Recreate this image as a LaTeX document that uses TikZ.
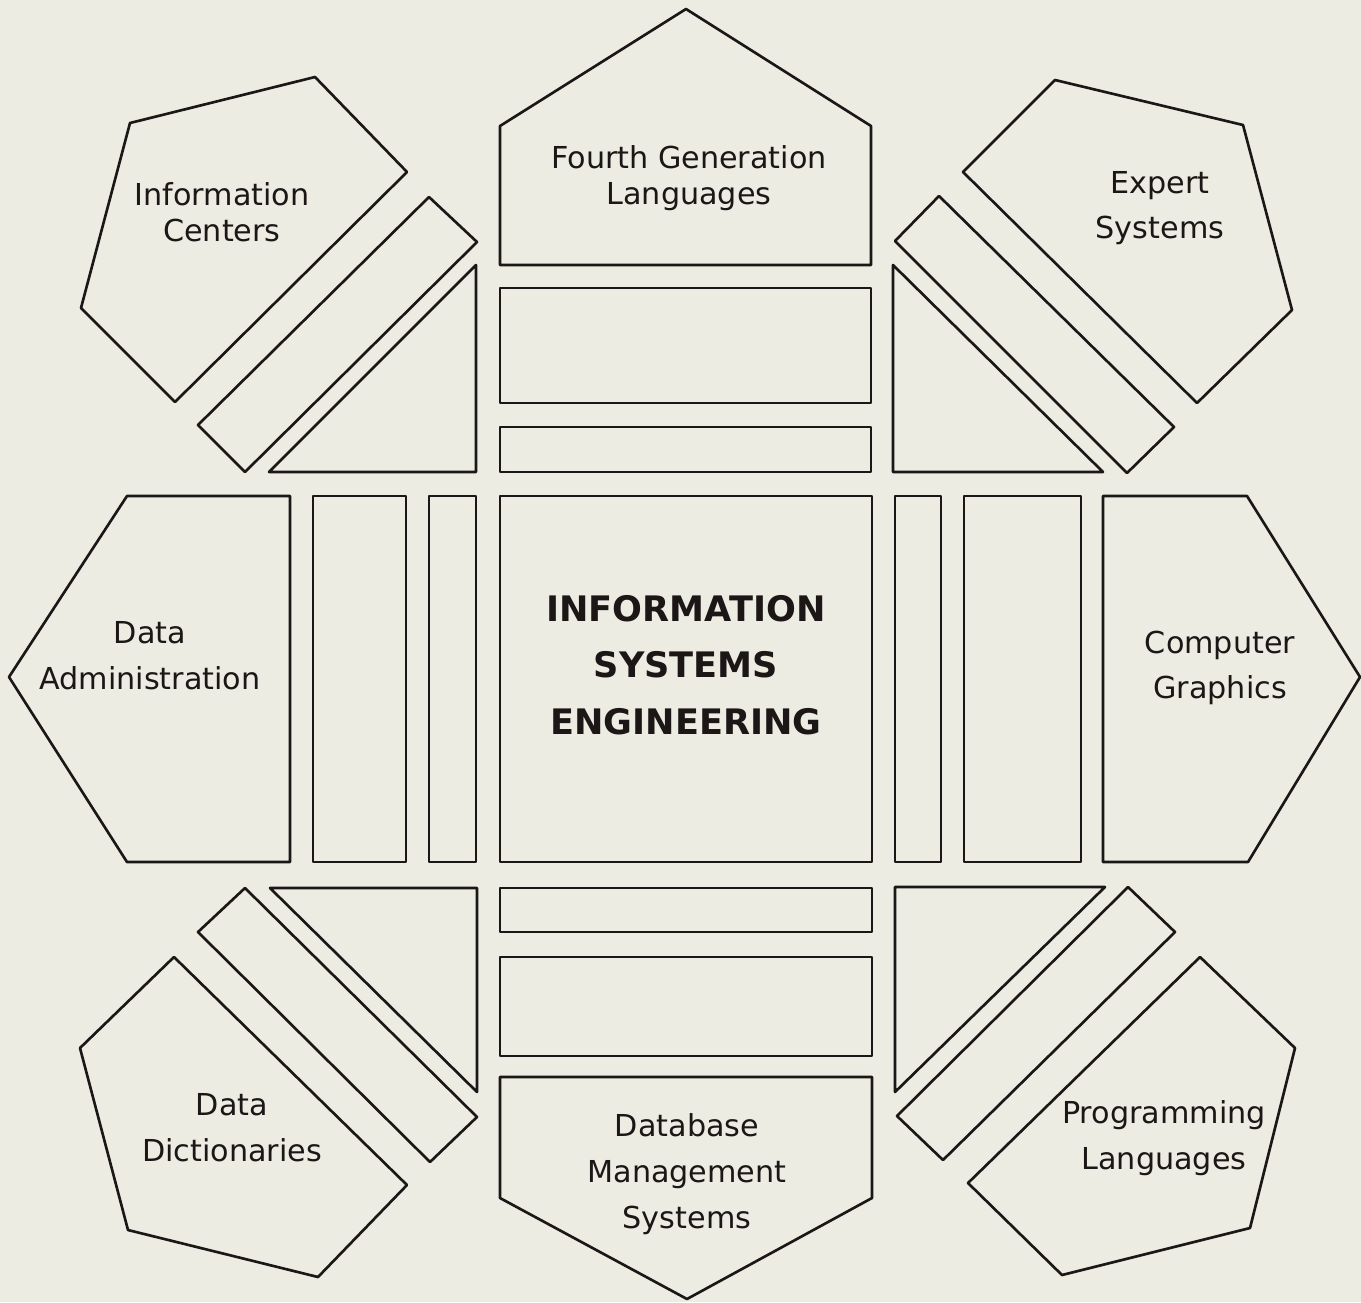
\documentclass[tikz,border=0pt]{standalone}
\usepackage{fontspec}
\setmainfont{DejaVu Sans}
\usepackage{xcolor}
\usepackage{tikz}
\definecolor{paper}{RGB}{236,236,226}
\definecolor{ink}{RGB}{28,22,22}

\begin{document}
\begin{tikzpicture}[
      x=0.02cm, y=-0.02cm,
      part/.style={draw=ink, line width=1.5pt, line join=round},
      lbl/.style={font=\fontsize{17.2}{26}\selectfont, align=center, text=ink},
      lbltight/.style={lbl, font=\fontsize{17.2}{20.5}\selectfont},
      core/.style={font=\bfseries\fontsize{20}{32.3}\selectfont, align=center, text=ink}
    ]
      % page
      \fill[paper] (0,0) rectangle (1361,1302);
      \useasboundingbox (0,0) rectangle (1361,1302);

      % centre block
      \draw[part] (500,496) rectangle (872,862);

      % top column
      \draw[part] (500,265) -- (500,126) -- (686,9) -- (871,126) -- (871,265) -- cycle;
      \draw[part] (500,288) rectangle (871,403);
      \draw[part] (500,427) rectangle (871,472);

      % bottom column
      \draw[part] (500,888) rectangle (872,932);
      \draw[part] (500,957) rectangle (872,1056);
      \draw[part] (500,1077) -- (872,1077) -- (872,1198) -- (687,1299) -- (500,1198) -- cycle;

      % left column
      \draw[part] (290,496) -- (290,862) -- (127,862) -- (9,677) -- (127,496) -- cycle;
      \draw[part] (313,496) rectangle (406,862);
      \draw[part] (429,496) rectangle (476,862);

      % right column
      \draw[part] (895,496) rectangle (941,862);
      \draw[part] (964,496) rectangle (1081,862);
      \draw[part] (1103,496) -- (1247,496) -- (1360,677) -- (1248,862) -- (1103,862) -- cycle;

      % top left wedge
      \draw[part] (130,123) -- (315,77) -- (407,172) -- (175,402) -- (81,308) -- cycle;
      \draw[part] (429,197) -- (477,242) -- (245,472) -- (198,425) -- cycle;
      \draw[part] (476,265) -- (476,472) -- (269,472) -- cycle;

      % top right wedge
      \draw[part] (1055,80) -- (1243,125) -- (1292,310) -- (1197,403) -- (963,172) -- cycle;
      \draw[part] (939,196) -- (895,241) -- (1127,473) -- (1174,427) -- cycle;
      \draw[part] (893,265) -- (893,472) -- (1103,472) -- cycle;

      % bottom left wedge
      \draw[part] (270,888) -- (477,888) -- (477,1092) -- cycle;
      \draw[part] (245,888) -- (198,932) -- (430,1162) -- (477,1117) -- cycle;
      \draw[part] (174,957) -- (407,1185) -- (318,1277) -- (128,1230) -- (80,1048) -- cycle;

      % bottom right wedge
      \draw[part] (895,887) -- (1105,887) -- (895,1092) -- cycle;
      \draw[part] (1128,887) -- (1175,932) -- (943,1160) -- (897,1116) -- cycle;
      \draw[part] (1200,957) -- (1295,1048) -- (1250,1228) -- (1062,1275) -- (968,1183) -- cycle;

      % labels
      \node[core] (ise) at (686,665) {INFORMATION\\SYSTEMS\\ENGINEERING};
      \node[lbltight] (fgl) at (689,178) {Fourth Generation\\Languages};
      \node[lbltight] (ic) at (222,212) {Information\\Centers};
      \node[lbl] (es) at (1160,208) {Expert\\Systems};
      \node[lbl] (da) at (150,656) {Data\\Administration};
      \node[lbl] (cg) at (1220,668) {Computer\\Graphics};
      \node[lbl] (dd) at (232,1128) {Data\\Dictionaries};
      \node[lbl] (dbms) at (687,1174) {Database\\Management\\Systems};
      \node[lbl] (pl) at (1164,1138) {Programming\\Languages};
    \end{tikzpicture}
\end{document}
